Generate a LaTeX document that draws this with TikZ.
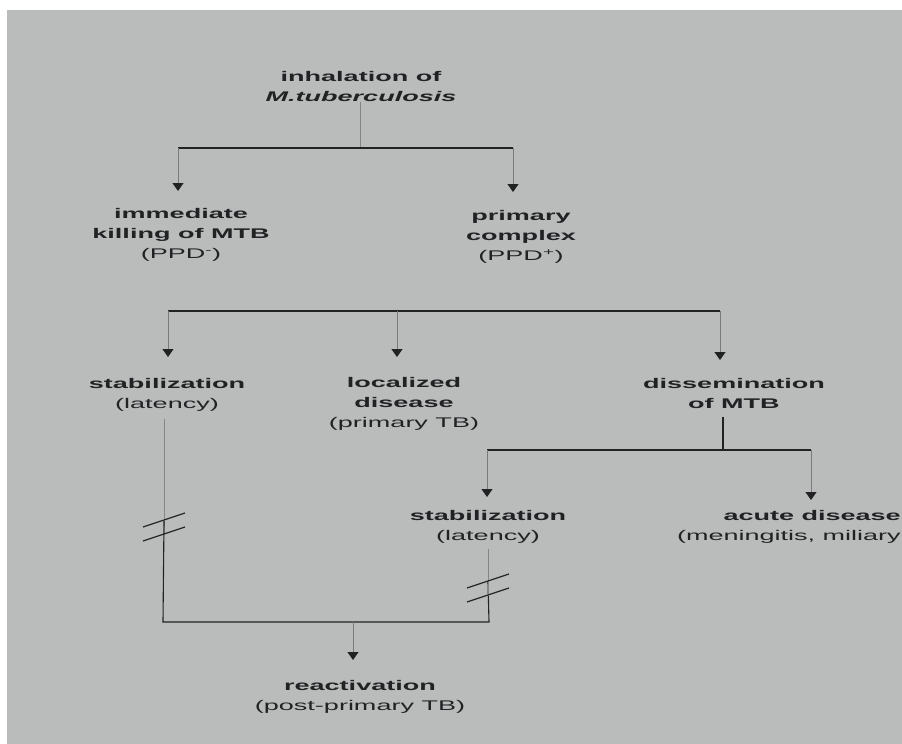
\documentclass[tikz,border=0pt]{standalone}
\usepackage{fontspec}
\setmainfont{Liberation Sans}[FakeStretch=1.93]
\usepackage{tikz}
\usetikzlibrary{arrows.meta}
\definecolor{paper}{RGB}{186,188,188}
\definecolor{ink}{RGB}{34,34,36}
\newcommand{\Break}[1]{\draw[line width=1.2pt,draw=ink] (#1) ++(-21,0) -- ++(42,-14) (#1) ++(-21,14) -- ++(42,-14);}

\begin{document}
\begin{tikzpicture}[x=1pt,y=-1pt,
  box/.style={align=center,anchor=north,font=\fontsize{14}{20}\selectfont,text=ink,inner sep=0pt},
  line/.style={draw=ink,line width=1.1pt},
  faint/.style={draw=ink!55,line width=0.9pt},
  feed/.style={draw=ink!60,line width=0.9pt,-{Triangle[width=11pt,length=8pt,color=ink]}}]
\fill[white] (0,0) rectangle (902,744);
\fill[paper] (7,10) rectangle (902,744);

\node [box] (inh) at (361,71) {\textbf{inhalation of}\\\textbf{\textit{M.tuberculosis}}};
\node [box] (kill) at (181,208) {\textbf{immediate}\\\textbf{killing of MTB}\\(PPD\textsuperscript{-})};
\node [box] (prim) at (521,210) {\textbf{primary}\\\textbf{complex}\\(PPD\textsuperscript{+})};
\node [box] (stab) at (167,378) {\textbf{stabilization}\\(latency)};
\node [box] (loc) at (404,377) {\textbf{localized}\\\textbf{disease}\\(primary TB)};
\node [box] (diss) at (734,378) {\textbf{dissemination}\\\textbf{of MTB}};
\node [box] (stabb) at (488,510) {\textbf{stabilization}\\(latency)};
\node [box,align=right,anchor=north east] (acute) at (901,510) {\textbf{acute disease}\\(meningitis, miliary};
\node [box] (react) at (360,680) {\textbf{reactivation}\\(post-primary TB)};

\coordinate (s0) at (360,148);
\coordinate (ka) at (178,148);
\coordinate (pa) at (513,148);
\draw[faint] (s0 |- inh.south) -- (s0);
\draw[line] (ka) -- (pa);
\draw[feed,shorten >=17pt] (ka) -- (ka |- kill.north);
\draw[feed,shorten >=18pt] (pa) -- (pa |- prim.north);

\coordinate (sa) at (168,311);
\coordinate (la) at (397,311);
\coordinate (da) at (720,311);
\draw[line] (sa) -- (da);
\draw[feed,shorten >=21pt] (sa) -- (sa |- stab.north);
\draw[feed,shorten >=20pt] (la) -- (la |- loc.north);
\draw[feed,shorten >=18pt] (da) -- (da |- diss.north);

\coordinate (dv) at (723,450);
\coordinate (sb) at (487,450);
\coordinate (ab) at (811,450);
\draw[line] (dv |- diss.south) ++(0,8) -- (dv);
\draw[line] (sb) -- (ab);
\draw[feed,shorten >=13pt] (sb) -- (sb |- stabb.north);
\draw[feed,shorten >=10pt] (ab) -- (ab |- acute.north);

\coordinate (k1) at (164,527);
\coordinate (k2) at (488,588);
\coordinate (bl) at (163,622);
\coordinate (br) at (489,622);
\coordinate (ra) at (353,622);
\draw[faint] (k1 |- stab.south) ++(0,8) -- ([yshift=-8pt]k1);
\draw[line] ([yshift=6pt]k1) -- (bl) -- (br) -- ([yshift=6pt]k2);
\draw[faint] (k2 |- stabb.south) ++(0,6) -- ([yshift=-8pt]k2);
\Break{k1}
\Break{k2}
\draw[feed,shorten >=20pt] (ra) -- (ra |- react.north);
\end{tikzpicture}
\end{document}
